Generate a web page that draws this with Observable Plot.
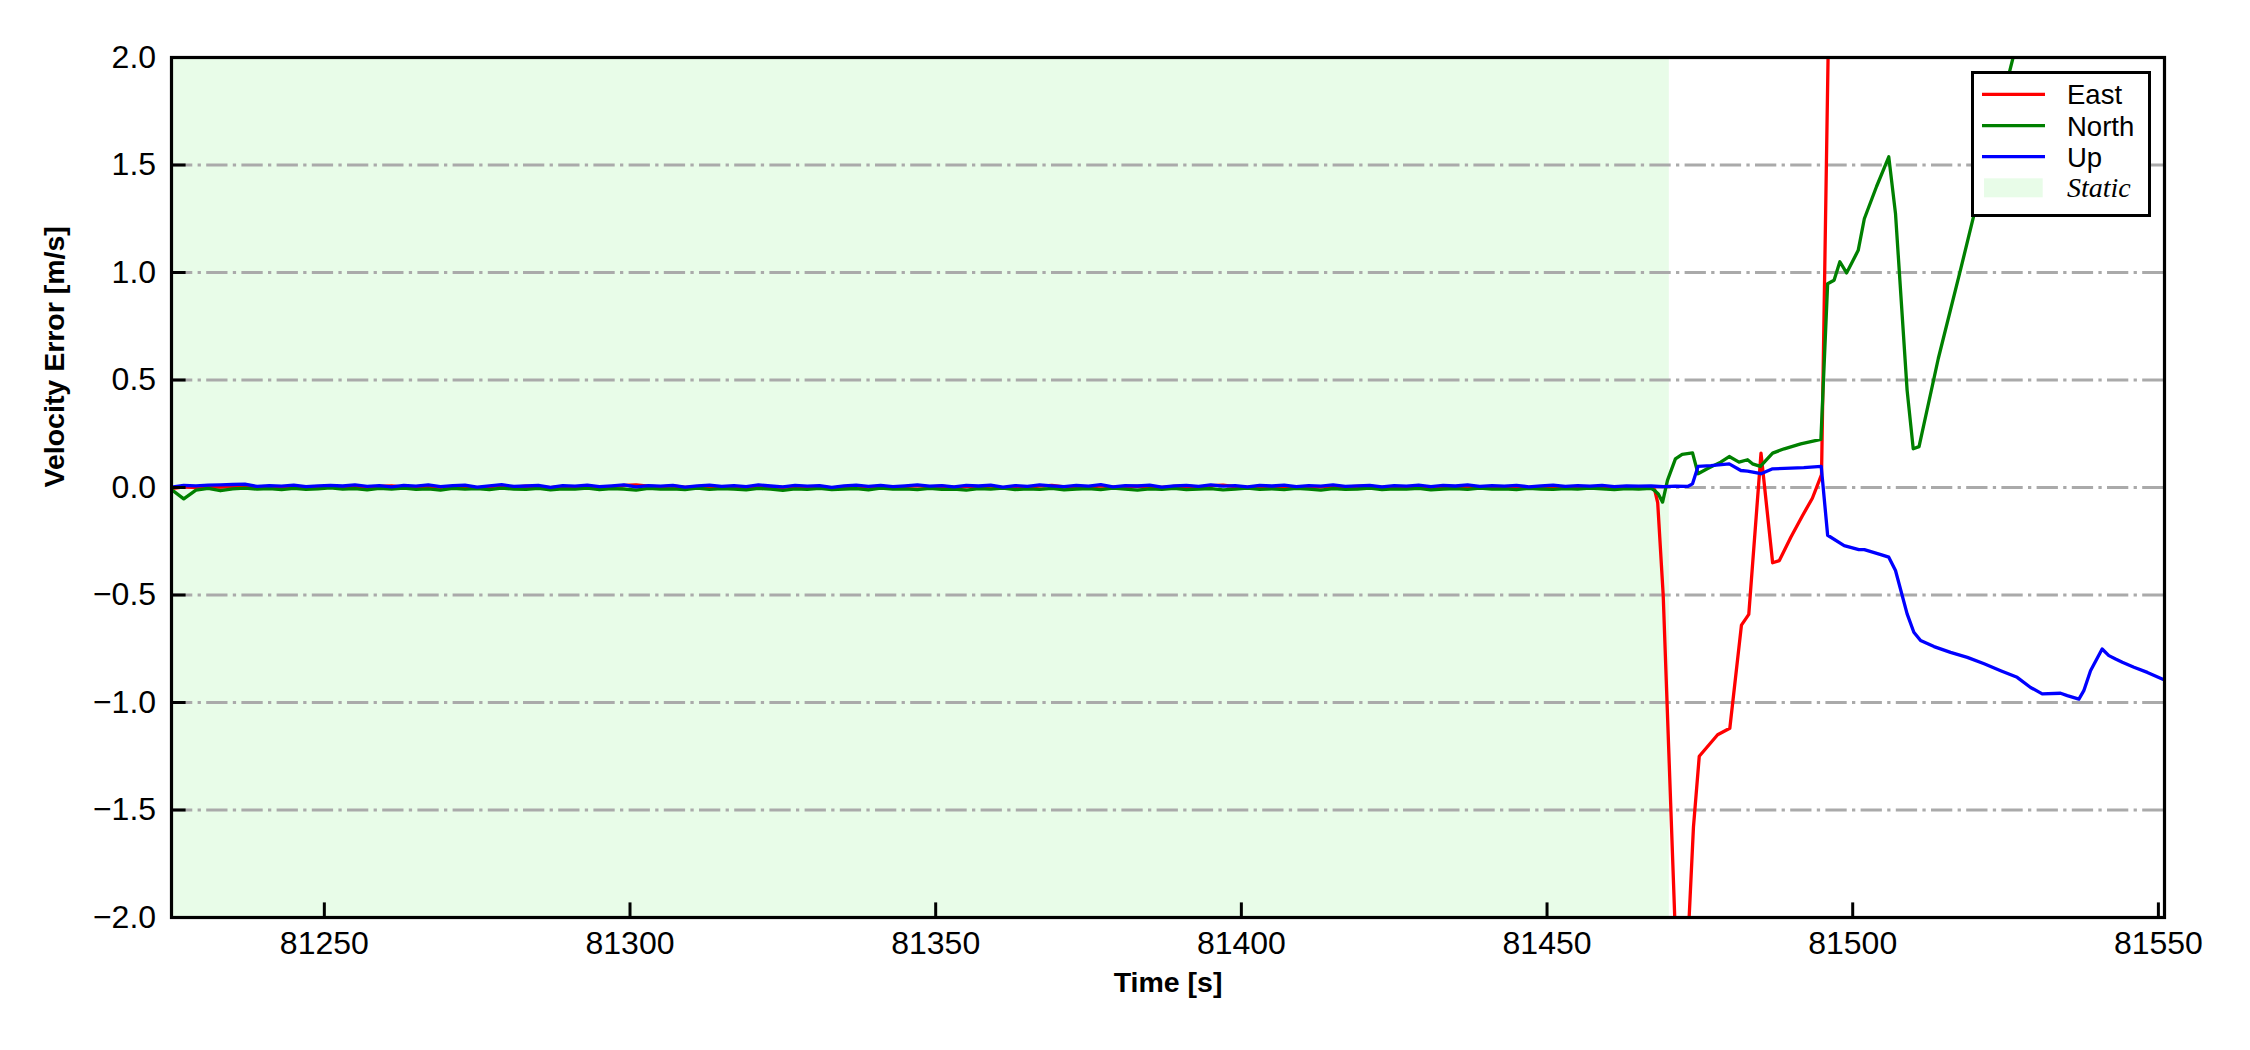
<!DOCTYPE html>
<html><head><meta charset="utf-8">
<script src="https://cdn.jsdelivr.net/npm/d3@7"></script>
<script src="https://cdn.jsdelivr.net/npm/@observablehq/plot@0.6"></script>
<style>
html,body{margin:0;padding:0;background:#fff;}
#chart svg{display:block;}
</style></head><body><div id="chart"></div>
<script>
// ---------- data ----------
const staticTime = [
81225,81227,81229,81231,81233,81235,81237,81239,81241,81243,
81245,81247,81249,81251,81253,81255,81257,81259,81261,81263,
81265,81267,81269,81271,81273,81275,81277,81279,81281,81283,
81285,81287,81289,81291,81293,81295,81297,81299,81301,81303,
81305,81307,81309,81311,81313,81315,81317,81319,81321,81323,
81325,81327,81329,81331,81333,81335,81337,81339,81341,81343,
81345,81347,81349,81351,81353,81355,81357,81359,81361,81363,
81365,81367,81369,81371,81373,81375,81377,81379,81381,81383,
81385,81387,81389,81391,81393,81395,81397,81399,81401,81403,
81405,81407,81409,81411,81413,81415,81417,81419,81421,81423,
81425,81427,81429,81431,81433,81435,81437,81439,81441,81443,
81445,81447,81449,81451,81453,81455,81457,81459,81461,81463,
81465,81467];
const eastStatic = [
-0.005,0.003,0.000,0.004,0.002,0.006,0.003,-0.002,0.004,0.001,
0.005,-0.001,0.003,0.006,0.002,0.004,-0.003,0.005,0.008,0.002,
0.004,0.007,0.001,0.005,0.003,-0.002,0.004,0.009,0.002,0.006,
0.003,-0.001,0.005,0.002,0.007,0.001,0.004,0.010,0.012,0.006,
0.003,0.008,0.000,0.004,0.006,0.002,0.005,-0.002,0.007,0.003,
0.001,0.006,0.003,0.005,-0.003,0.004,0.008,0.002,0.006,0.001,
0.004,0.009,0.003,0.006,0.000,0.005,0.002,0.007,-0.002,0.004,
0.002,0.006,0.010,0.003,0.005,0.001,0.008,0.002,0.004,0.006,
0.003,0.000,0.005,0.007,0.002,0.009,0.011,0.004,0.001,0.006,
0.003,0.005,0.000,0.004,0.002,0.007,0.003,0.005,0.006,0.001,
0.004,0.002,0.006,0.001,0.005,0.003,0.007,0.002,0.004,0.001,
0.005,0.000,0.004,0.006,0.002,0.003,0.001,0.005,0.002,0.003,
0.001,0.000];
const northStatic = [
-0.010,-0.053,-0.012,-0.004,-0.015,-0.006,-0.003,-0.008,-0.005,-0.010,
-0.004,-0.009,-0.006,-0.002,-0.008,-0.005,-0.011,-0.004,-0.007,-0.003,
-0.009,-0.006,-0.012,-0.004,-0.008,-0.005,-0.010,-0.003,-0.007,-0.009,
-0.004,-0.011,-0.006,-0.008,-0.003,-0.010,-0.005,-0.007,-0.012,-0.004,
-0.008,-0.006,-0.010,-0.003,-0.009,-0.005,-0.007,-0.011,-0.004,-0.008,
-0.013,-0.006,-0.009,-0.004,-0.010,-0.007,-0.005,-0.011,-0.003,-0.008,
-0.006,-0.010,-0.004,-0.009,-0.007,-0.012,-0.005,-0.008,-0.003,-0.010,
-0.006,-0.009,-0.004,-0.011,-0.007,-0.005,-0.010,-0.003,-0.008,-0.012,
-0.006,-0.009,-0.004,-0.010,-0.007,-0.005,-0.011,-0.008,-0.003,-0.009,
-0.006,-0.010,-0.004,-0.008,-0.012,-0.005,-0.009,-0.007,-0.003,-0.010,
-0.006,-0.008,-0.004,-0.011,-0.007,-0.005,-0.009,-0.003,-0.008,-0.006,
-0.010,-0.004,-0.007,-0.009,-0.005,-0.008,-0.003,-0.006,-0.010,-0.005,
-0.007,-0.004];
const upStatic = [
0.002,0.010,0.008,0.011,0.012,0.014,0.016,0.005,0.009,0.006,
0.011,0.004,0.008,0.010,0.007,0.012,0.005,0.009,0.003,0.010,
0.006,0.012,0.004,0.009,0.011,0.002,0.008,0.013,0.005,0.007,
0.010,0.001,0.009,0.006,0.011,0.004,0.008,0.012,0.003,0.009,
0.006,0.010,0.002,0.008,0.011,0.005,0.009,0.004,0.012,0.007,
0.003,0.010,0.006,0.009,0.001,0.008,0.011,0.005,0.010,0.004,
0.008,0.012,0.006,0.009,0.003,0.010,0.007,0.011,0.002,0.009,
0.005,0.012,0.008,0.004,0.010,0.006,0.013,0.003,0.009,0.007,
0.011,0.002,0.008,0.010,0.005,0.012,0.006,0.009,0.003,0.010,
0.007,0.011,0.004,0.009,0.006,0.012,0.005,0.008,0.010,0.003,
0.009,0.006,0.011,0.004,0.010,0.007,0.012,0.005,0.009,0.006,
0.010,0.003,0.008,0.011,0.005,0.009,0.006,0.010,0.004,0.008,
0.006,0.007];

const eastPostTime = [81467.6,81468.1,81469.0,81471.9,81473.95,81474.9,81477.9,81479.9,81481.8,81483.0,81485.0,81486.9,81488.0,81489.9,81491.8,81493.4,81494.9,81496.3,81499.0,81505.0,81515.0,81530.0,81551.0];
const eastPostValue = [-0.01,-0.07,-0.5,-2.8,-1.58,-1.25,-1.15,-1.12,-0.64,-0.59,0.16,-0.35,-0.34,-0.23,-0.13,-0.05,0.06,2.6,3.3,3.8,4.2,4.5,4.8];

const northPostTime = [81467.5,81468.2,81468.9,81469.7,81471.0,81472.1,81473.8,81474.7,81476.2,81478.4,81479.8,81481.4,81482.8,81483.6,81484.9,81485.8,81486.9,81488.8,81491.5,81494.8,81495.9,81496.95,81497.9,81499.0,81500.9,81501.9,81503.9,81505.9,81507.0,81508.9,81509.9,81510.85,81514.0,81517.7,81522.0,81526.5,81535.0,81551.0];
const northPostValue = [-0.012,-0.03,-0.068,0.033,0.133,0.154,0.161,0.064,0.087,0.118,0.144,0.118,0.129,0.11,0.098,0.126,0.16,0.18,0.203,0.224,0.948,0.964,1.05,0.998,1.103,1.25,1.40,1.538,1.274,0.452,0.18,0.19,0.6,1.02,1.52,2.03,2.9,3.8];

const upPostTime = [81469.0,81471.0,81473.0,81473.8,81474.7,81476.8,81479.8,81481.7,81482.8,81485.0,81486.9,81492.0,81494.85,81495.9,81498.6,81501.0,81501.9,81504.6,81505.9,81507.0,81508.9,81510.0,81511.1,81513.3,81516.0,81518.75,81521.5,81524.2,81526.9,81529.1,81531.0,81534.0,81535.1,81537.0,81537.8,81538.9,81540.8,81541.9,81543.0,81544.1,81546.0,81548.2,81551.0];
const upPostValue = [0.004,0.006,0.005,0.017,0.098,0.102,0.11,0.079,0.076,0.064,0.087,0.092,0.098,-0.222,-0.27,-0.289,-0.289,-0.312,-0.324,-0.386,-0.588,-0.673,-0.712,-0.74,-0.767,-0.79,-0.82,-0.852,-0.883,-0.93,-0.96,-0.957,-0.968,-0.984,-0.945,-0.852,-0.751,-0.782,-0.798,-0.813,-0.836,-0.86,-0.895];

const seriesNames = ["East", "North", "Up"];
const seriesColors = ["#ff0000", "#008000", "#0000ff"];
const staticLabel = "Static";
const staticStart = 81225;
const staticEnd = 81470;
const staticColor = "#e8fce8";
const xDomain = [81225, 81551];
const yDomain = [-2, 2];
const xTicks = [81250, 81300, 81350, 81400, 81450, 81500, 81550];
const yTicks = [-2.0, -1.5, -1.0, -0.5, 0.0, 0.5, 1.0, 1.5, 2.0];
const gridTicks = [-1.5, -1.0, -0.5, 0.0, 0.5, 1.0, 1.5];
const xLabel = "Time [s]";
const yLabel = "Velocity Error [m/s]";

// ---------- tables ----------
function table(times, values) { return times.map((t, i) => ({time: t, value: values[i]})); }
const seriesData = [
  table(staticTime.concat(eastPostTime), eastStatic.concat(eastPostValue)),
  table(staticTime.concat(northPostTime), northStatic.concat(northPostValue)),
  table(staticTime.concat(upPostTime), upStatic.concat(upPostValue))
];

const font = "'Liberation Sans', Arial, Helvetica, sans-serif";

const plot = Plot.plot({
  width: 2250, height: 1050,
  marginLeft: 171, marginRight: 86, marginTop: 57, marginBottom: 133,
  style: {fontFamily: font, fontSize: "32px", background: "#fff", color: "#000", overflow: "visible"},
  x: {domain: xDomain},
  y: {domain: yDomain},
  marks: [
    Plot.rect([{start: staticStart, end: staticEnd}], {x1: "start", x2: "end", fill: staticColor}),
    Plot.gridY(gridTicks, {stroke: "#aaaaaa", strokeOpacity: 1, strokeWidth: 3.2, strokeDasharray: "21.3,5.3,3.3,5.3"}),
    ...seriesData.map((d, i) => Plot.line(d, {x: "time", y: "value", stroke: seriesColors[i], strokeWidth: 3.3, strokeLinejoin: "round", clip: true})),
    Plot.frame({stroke: "#000", strokeWidth: 3.2}),
    Plot.axisX(xTicks, {tickSize: -14.6, tickPadding: 28, strokeWidth: 3, tickFormat: d => String(d), fontSize: 32, label: null}),
    Plot.axisY(yTicks, {tickSize: -14.6, tickPadding: 30, strokeWidth: 3, tickFormat: d3.format(".1f"), fontSize: 32, label: null}),
    Plot.text([xLabel], {frameAnchor: "bottom", dy: 74.5, text: d => d, fontWeight: "bold", fontSize: 28.5}),
    Plot.text([yLabel], {frameAnchor: "left", dx: -116.5, rotate: -90, text: d => d, fontWeight: "bold", fontSize: 28.5})
  ]
});
document.getElementById("chart").append(plot);

// ---------- legend (inside the plot, upper right) ----------
const svg = d3.select(plot.tagName.toLowerCase() === "svg" ? plot : plot.querySelector("svg"));
const lg = svg.append("g").attr("class", "legend").attr("text-anchor", "start");
lg.append("rect").attr("x", 1972.5).attr("y", 72.5).attr("width", 177).attr("height", 143)
  .attr("fill", "#fff").attr("stroke", "#000").attr("stroke-width", 3);
const rowY = [94.3, 125.7, 156.7];
seriesNames.forEach((name, i) => {
  lg.append("line").attr("x1", 1982).attr("x2", 2045).attr("y1", rowY[i]).attr("y2", rowY[i])
    .attr("stroke", seriesColors[i]).attr("stroke-width", 3.3);
  lg.append("text").attr("x", 2067).attr("y", rowY[i] + 9.8).attr("text-anchor", "start").text(name)
    .attr("font-family", font).attr("font-size", 27.5).attr("fill", "#000");
});
lg.append("rect").attr("x", 1984).attr("y", 178.3).attr("width", 58.7).attr("height", 19).attr("fill", staticColor);
lg.append("text").attr("x", 2067).attr("y", 197).attr("text-anchor", "start").text(staticLabel)
  .attr("font-family", "'Liberation Serif', 'Times New Roman', serif").attr("font-style", "italic")
  .attr("font-size", 28).attr("fill", "#000");
</script>
</body></html>
